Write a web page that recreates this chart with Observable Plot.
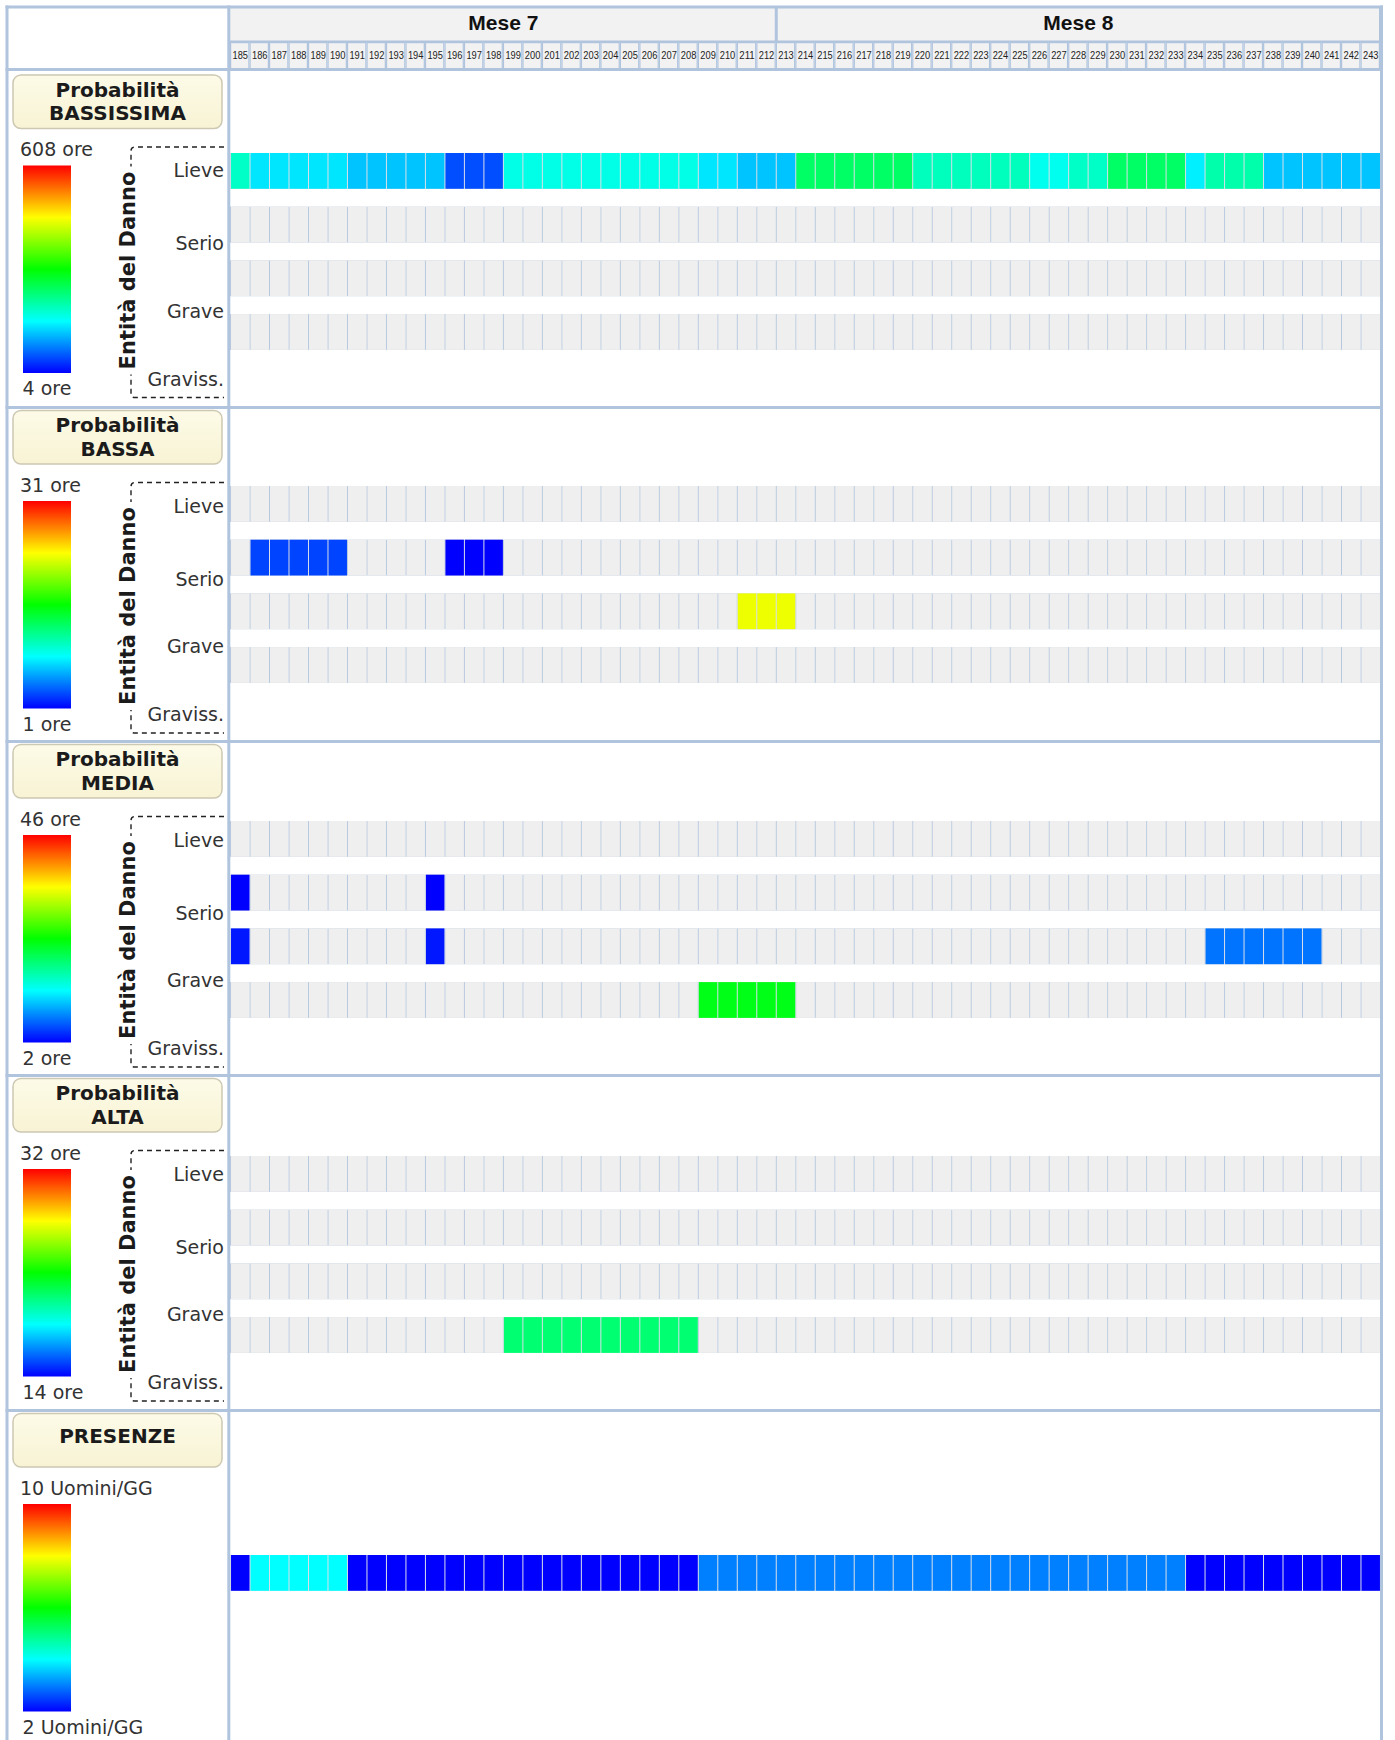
<!DOCTYPE html>
<html lang="it">
<head>
<meta charset="utf-8">
<title>Probabilità ed Entità del Danno</title>
<script src="https://cdn.jsdelivr.net/npm/d3@7"></script>
<script src="https://cdn.jsdelivr.net/npm/@observablehq/plot@0.6"></script>
<style>
html,body{margin:0;padding:0;background:#fff;}
#chart{position:relative;width:1395px;height:1740px;overflow:hidden;background:#fff;}
#chart svg{position:absolute;left:0;}
</style>
</head>
<body>
<div id="chart"></div>
<script>
// ================= DATA =================
const days = [185,186,187,188,189,190,191,192,193,194,195,196,197,198,199,200,201,202,203,204,205,206,207,208,209,210,211,212,213,214,215,216,217,218,219,220,221,222,223,224,225,226,227,228,229,230,231,232,233,234,235,236,237,238,239,240,241,242,243];
const months = ["Mese 7", "Mese 8"];
const monthFirstDay = [185, 213];
const monthLastDay = [212, 243];
const damageLevels = ["Lieve", "Serio", "Grave", "Graviss."];

// Probabilità BASSISSIMA (ore), Lieve, one value per day 185..243
const bassissimaLieve = [188,140,140,140,140,140,120,120,120,120,120,50,50,50,170,170,170,170,170,170,170,170,170,170,140,140,120,120,120,247,247,247,247,247,247,194,194,194,194,194,194,165,165,188,188,247,247,247,247,146,205,205,205,120,120,120,120,120,120];

// Probabilità BASSA (ore)
const bassaSerioDays = [186,187,188,189,190,196,197,198];
const bassaSerioOre  = [3,3,3,3,3,1,1,1];
const bassaGraveDays = [211,212,213];
const bassaGraveOre  = [23,23,23];

// Probabilità MEDIA (ore)
const mediaSerioDays = [185,195];
const mediaSerioOre  = [2,2];
const mediaGraveDays = [185,195,235,236,237,238,239,240];
const mediaGraveOre  = [3,3,7,7,7,7,7,7];
const mediaGravissDays = [209,210,211,212,213];
const mediaGravissOre  = [23,23,23,23,23];

// Probabilità ALTA (ore)
const altaGravissDays = [199,200,201,202,203,204,205,206,207,208];
const altaGravissOre  = [21,21,21,21,21,21,21,21,21,21];

// PRESENZE (Uomini/GG), one value per day 185..243
const presenze = [2,4,4,4,4,4,2,2,2,2,2,2,2,2,2,2,2,2,2,2,2,2,2,2,3,3,3,3,3,3,3,3,3,3,3,3,3,3,3,3,3,3,3,3,3,3,3,3,3,2,2,2,2,2,2,2,2,2,2];

const panelTitles = [["Probabilità","BASSISSIMA"],["Probabilità","BASSA"],["Probabilità","MEDIA"],["Probabilità","ALTA"],["PRESENZE"]];
const panelMin = [4, 1, 2, 14, 2];
const panelMax = [608, 31, 46, 32, 10];
const panelUnit = ["ore", "ore", "ore", "ore", "Uomini/GG"];

// ================= BUILD TABLES =================
const rec = (level, dl, vals) => dl.map((day, i) => ({day, level, value: vals[i]}));
const panels = [
  {levels: damageLevels, records: rec("Lieve", days, bassissimaLieve)},
  {levels: damageLevels, records: [...rec("Serio", bassaSerioDays, bassaSerioOre), ...rec("Grave", bassaGraveDays, bassaGraveOre)]},
  {levels: damageLevels, records: [...rec("Serio", mediaSerioDays, mediaSerioOre), ...rec("Grave", mediaGraveDays, mediaGraveOre), ...rec("Graviss.", mediaGravissDays, mediaGravissOre)]},
  {levels: damageLevels, records: rec("Graviss.", altaGravissDays, altaGravissOre)},
  {levels: ["Presenze"], records: rec("Presenze", days, presenze)}
].map((p, i) => ({...p, title: panelTitles[i], min: panelMin[i], max: panelMax[i], unit: panelUnit[i]}));
const monthTable = months.map((name, i) => ({name, first: monthFirstDay[i], last: monthLastDay[i]}));

// ================= LAYOUT =================
const W = 1395, H = 1740;
const GL = 230, GR = 15;              // grid margins
const FRAME = "#b0c4de";
const jet = t => d3.hsl(240 * (1 - t), 1, 0.5).formatHex();
const sepY = [69.5, 407.5, 741.5, 1075.5, 1410.5];   // panel separator lines
const panelS = [73.5, 409, 743, 1077, 1412];          // reference for left-column offsets
const rowTopY = [153.2, 486.2, 821, 1155.5, 1555];    // top of first row in each panel
const rowPitch = 53.7, rowH = 35.8;
const chart = document.getElementById("chart");

function place(node, top) { node.style.top = top + "px"; node.style.left = "0px"; node.style.background = "transparent"; chart.appendChild(node); }

// ---- Header: months ----
place(Plot.plot({
  width: W, height: 34.5, marginLeft: GL, marginRight: GR, marginTop: 0, marginBottom: 0,
  x: {type: "linear", domain: [days[0] - 0.5, days[days.length - 1] + 0.5], axis: null},
  marks: [
    Plot.barX(monthTable, {x1: d => d.first - 0.5, x2: d => d.last + 0.5, fill: "#f2f2f2"}),
    Plot.ruleX(monthTable, {x: d => d.last + 0.5, stroke: FRAME, strokeWidth: 3}),
    Plot.text(monthTable, {x: d => (d.first + d.last) / 2, text: "name", fontSize: 21, fontWeight: "bold", fontFamily: "Liberation Sans, Arial, sans-serif", fill: "#111", dy: -1})
  ]
}), 7);

// ---- Header: days ----
const dayHeader = Plot.plot({
  width: W, height: 27.5, marginLeft: GL, marginRight: GR, marginTop: 0, marginBottom: 0,
  x: {type: "band", domain: days, padding: 0, round: false, axis: null},
  marks: [
    Plot.cell(days, {x: d => d, fill: "#f2f2f2", stroke: FRAME, strokeWidth: 1.2, inset: 0.6}),
    Plot.text(days, {x: d => d, text: d => String(d), fontSize: 11.5, fontFamily: "Liberation Sans, Arial, sans-serif", fill: "#222", dy: -1})
  ]
});
// condensed tick labels, as in the original
d3.select(dayHeader).selectAll("text").attr("textLength", 15.5).attr("lengthAdjust", "spacingAndGlyphs");
place(dayHeader, 41.5);

// ---- Panels ----
panels.forEach((p, i) => {
  const n = p.levels.length;
  const pad = 6;
  const bandLen = (n - 1) * rowPitch + rowH;
  const grid = p.levels.flatMap(level => days.map(day => ({day, level})));
  const svg = Plot.plot({
    width: W, height: bandLen + 2 * pad, marginLeft: GL, marginRight: GR, marginTop: pad, marginBottom: pad,
    x: {type: "band", domain: days, padding: 0, round: false, axis: null},
    y: {type: "band", domain: p.levels, paddingInner: n > 1 ? (rowPitch - rowH) / rowPitch : 0, paddingOuter: 0, round: false, axis: null},
    color: {type: "linear", domain: [p.min, p.max], interpolate: jet},
    marks: [
      Plot.cell(grid, {x: "day", y: "level", fill: "#b8c9df"}),
      Plot.cell(grid, {x: "day", y: "level", fill: "#efefef", insetLeft: 1}),
      Plot.cell(p.records, {x: "day", y: "level", fill: "#d9dfe9"}),
      Plot.cell(p.records, {x: "day", y: "level", fill: "value", insetLeft: 1})
    ]
  });
  place(svg, rowTopY[i] - pad);
});

// ================= OVERLAY (frame + left column legends) =================
const ov = d3.select(chart).append("svg").attr("width", W).attr("height", H)
  .style("top", "0px").style("pointer-events", "none");
const defs = ov.append("defs");
const grad = defs.append("linearGradient").attr("id", "jetGrad").attr("x1", 0).attr("y1", 1).attr("x2", 0).attr("y2", 0);
d3.range(0, 21).forEach(k => grad.append("stop").attr("offset", k / 20).attr("stop-color", jet(k / 20)));
const boxGrad = defs.append("linearGradient").attr("id", "boxGrad").attr("x1", 0).attr("y1", 0).attr("x2", 0).attr("y2", 1);
boxGrad.append("stop").attr("offset", 0).attr("stop-color", "#fdfbe8");
boxGrad.append("stop").attr("offset", 1).attr("stop-color", "#f8f3d4");

const line = (x1, y1, x2, y2, w = 3) => ov.append("line").attr("x1", x1).attr("y1", y1).attr("x2", x2).attr("y2", y2).attr("stroke", FRAME).attr("stroke-width", w);
line(5.5, 7, 1383, 7);            // top frame
line(230, 41.5, 1383, 41.5, 2);   // month/day separator
sepY.forEach(y => line(5.5, y, 1383, y));
line(7, 5.5, 7, H);               // left frame
line(228.8, 5.5, 228.8, H);       // left column separator
line(1381.5, 5.5, 1381.5, H);     // right frame

const TXT = "DejaVu Sans, Verdana, sans-serif";
panels.forEach((p, i) => {
  const s = panelS[i];
  const g = ov.append("g");
  // title box
  g.append("rect").attr("x", 13).attr("y", s + 1.5).attr("width", 209).attr("height", 53.5).attr("rx", 8)
    .attr("fill", "url(#boxGrad)").attr("stroke", "#cdc8b2").attr("stroke-width", 1.5);
  if (p.title.length === 2) {
    p.title.forEach((t, k) => g.append("text").attr("x", 117.5).attr("y", s + 23 + k * 23.5).attr("text-anchor", "middle")
      .attr("font-family", TXT).attr("font-weight", "bold").attr("font-size", 20).attr("fill", "#1b1b1b").text(t));
  } else {
    g.append("text").attr("x", 117.5).attr("y", s + 31).attr("text-anchor", "middle")
      .attr("font-family", TXT).attr("font-weight", "bold").attr("font-size", 20).attr("fill", "#1b1b1b").text(p.title[0]);
  }
  // colorbar
  g.append("text").attr("x", 20).attr("y", s + 82.5).attr("font-family", TXT).attr("font-size", 19).attr("fill", "#333")
    .text(p.max + " " + p.unit);
  g.append("rect").attr("x", 23).attr("y", s + 92).attr("width", 48).attr("height", 207.5).attr("fill", "url(#jetGrad)");
  g.append("text").attr("x", 22.5).attr("y", s + 321.5).attr("font-family", TXT).attr("font-size", 19).attr("fill", "#333")
    .text(p.min + " " + p.unit);
  if (p.levels.length > 1) {
    // dashed bracket
    const t = s + 73.5, b = s + 324, xl = 131;
    g.append("path").attr("d", `M224,${t} H${xl + 4} Q${xl},${t} ${xl},${t + 4} V${b - 4} Q${xl},${b} ${xl + 4},${b} H224`)
      .attr("fill", "none").attr("stroke", "#222").attr("stroke-width", 1.4).attr("stroke-dasharray", "5,4");
    const cy = s + 197;
    g.append("rect").attr("x", 116).attr("y", cy - 104).attr("width", 22).attr("height", 208).attr("fill", "#fff");
    g.append("text").attr("transform", `translate(134.5,${cy}) rotate(-90)`).attr("text-anchor", "middle")
      .attr("font-family", TXT).attr("font-weight", "bold").attr("font-size", 21).attr("fill", "#1b1b1b").text("Entità del Danno");
    const ly = [103.5, 176.5, 244, 312];
    p.levels.forEach((lv, k) => g.append("text").attr("x", 224).attr("y", s + ly[k]).attr("text-anchor", "end")
      .attr("font-family", TXT).attr("font-size", 19).attr("fill", "#333").text(lv));
  }
});
</script>
</body>
</html>
